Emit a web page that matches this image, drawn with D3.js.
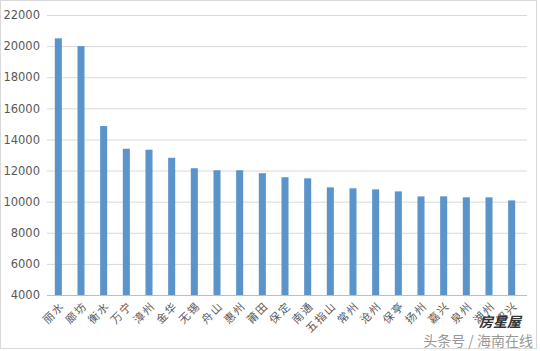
<!DOCTYPE html>
<html>
<head>
<meta charset="utf-8">
<script src="https://cdn.jsdelivr.net/npm/d3@7"></script>
<style>
  body { margin: 0; background: #fff; }
  text { font-family: "Noto Sans CJK SC", "DejaVu Sans", sans-serif; }
</style>
</head>
<body>
<div id="chart"></div>
<script>
const cities = ["丽水", "廊坊", "衡水", "万宁", "漳州", "金华", "无锡", "舟山", "惠州", "莆田", "保定",
  "南通", "五指山", "常州", "沧州", "保亭", "扬州", "嘉兴", "泉州", "湖州", "绍兴"];
const prices = [20500, 20000, 14860, 13400, 13340, 12820, 12150, 12020, 12020, 11830, 11570,
  11500, 10920, 10860, 10790, 10660, 10340, 10340, 10280, 10280, 10080];
const yTicks = [4000, 6000, 8000, 10000, 12000, 14000, 16000, 18000, 20000, 22000];

const w = 540, h = 351,
  margin = ({ top: 15, right: 13, bottom: 56, left: 47 });

const svg = d3.select("#chart")
  .append("svg")
  .attr("width", w)
  .attr("height", h);

// outer frame
svg.append("rect")
  .attr("x", 0.5).attr("y", 0.5)
  .attr("width", w - 4).attr("height", h - 3)
  .attr("fill", "none")
  .attr("stroke", "#d9d9d9");

let x = d3.scaleBand()
  .domain(cities)
  .range([margin.left, w - margin.right - 4])
  .paddingInner(0.69)
  .paddingOuter(0.345);

let y = d3.scaleLinear()
  .domain([4000, 22000])
  .range([h - margin.bottom, margin.top]);

// gridlines + y labels
svg.append("g")
  .attr("class", "y-axis")
  .attr("transform", `translate(${margin.left},0)`)
  .call(d3.axisLeft(y).tickValues(yTicks).tickFormat(d3.format("d"))
    .tickSize(-(w - margin.left - margin.right)).tickPadding(7))
  .call(g => g.select(".domain").remove())
  .call(g => g.selectAll("line").attr("stroke", "#d9d9d9"))
  .call(g => g.selectAll("text").attr("fill", "#595959").style("font-size", "11.5px")
    .style("font-family", "'DejaVu Sans', sans-serif"));

// bars
svg.append("g")
  .attr("fill", "#5b93cb")
  .selectAll("rect")
  .data(cities)
  .join("rect")
  .attr("x", (d, i) => x(d))
  .attr("y", (d, i) => y(prices[i]))
  .attr("width", x.bandwidth())
  .attr("height", (d, i) => y(4000) - y(prices[i]));

// x axis line
svg.append("line")
  .attr("x1", margin.left).attr("x2", w - margin.right)
  .attr("y1", y(4000) + 0.5).attr("y2", y(4000) + 0.5)
  .attr("stroke", "#bfbfbf");

// rotated city labels
svg.append("g")
  .selectAll("text")
  .data(cities)
  .join("text")
  .attr("transform", d => `translate(${x(d) + x.bandwidth() / 2 + 4},${y(4000) + 9}) rotate(-45)`)
  .attr("text-anchor", "end")
  .attr("dy", "0.35em")
  .attr("fill", "#595959")
  .style("font-size", "11px")
  .style("letter-spacing", "1.5px")
  .text(d => d);

// watermark
svg.append("text")
  .attr("x", 500).attr("y", 327)
  .attr("text-anchor", "middle")
  .attr("fill", "#333")
  .style("font-size", "14px")
  .style("font-style", "italic")
  .style("font-weight", "bold")
  .text("房星屋");

svg.append("text")
  .attr("x", 533).attr("y", 346)
  .attr("text-anchor", "end")
  .attr("fill", "#999")
  .style("font-size", "14px")
  .text("头条号 / 海南在线");
</script>
</body>
</html>
